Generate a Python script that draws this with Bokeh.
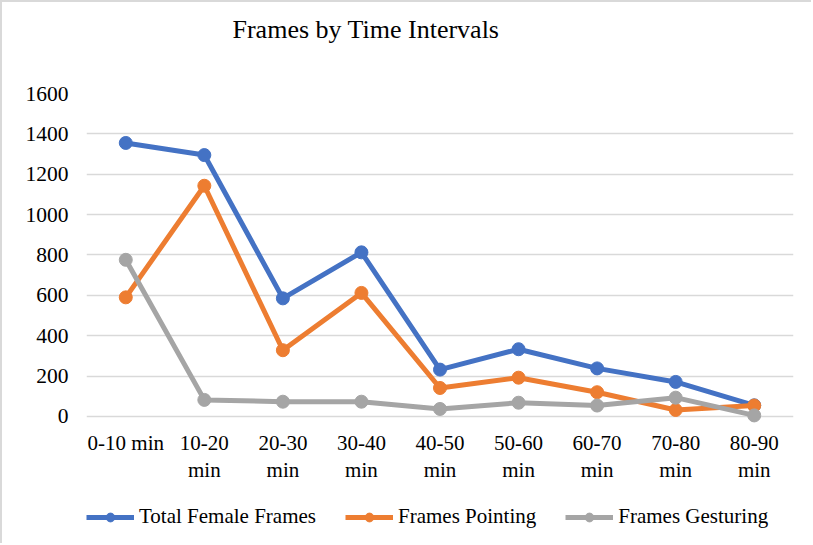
from bokeh.plotting import figure
from bokeh.layouts import column
from bokeh.models import (Legend, LegendItem, Range1d, FactorRange, FixedTicker,
                          CategoricalAxis, Label)
from bokeh.embed import file_html
from bokeh.resources import INLINE

# category labels (first and second line of each tick label)
tick_line1 = ["0-10 min", "10-20", "20-30", "30-40", "40-50",
              "50-60", "60-70", "70-80", "80-90"]
tick_line2 = ["", "min", "min", "min", "min", "min", "min", "min", "min"]
total_female = [1355, 1295, 585, 813, 232, 333, 238, 171, 55]
pointing = [590, 1143, 328, 612, 141, 192, 120, 32, 54]
gesturing = [776, 82, 73, 73, 37, 68, 54, 93, 5]
series_names = ["Total Female Frames", "Frames Pointing", "Frames Gesturing"]
colors = ["#4472C4", "#ED7D31", "#A5A5A5"]
y_ticks = [0, 200, 400, 600, 800, 1000, 1200, 1400, 1600]
title_text = "Frames by Time Intervals"

FONT = "Liberation Serif"
BORDER = "2px solid #d9d9d9"

# second-line factors must be unique: pad with zero-width spaces
line2_factors = [t + "\u200b" * (i + 1) for i, t in enumerate(tick_line2)]


def bare(fig):
    fig.outline_line_color = None
    fig.background_fill_color = "white"
    fig.border_fill_color = "white"
    return fig


# ---- title strip ----
tf = bare(figure(width=811, height=52, x_range=Range1d(0, 707), y_range=Range1d(0, 52),
                 x_axis_type=None, y_axis_type=None,
                 output_backend="svg", toolbar_location=None,
                 min_border_left=0, min_border_right=0, min_border_top=0, min_border_bottom=0))
tf.styles = {"border-top": BORDER, "border-left": BORDER}
tf.add_layout(Label(x=146, y=25, text=title_text, text_font=FONT, text_font_size="26px",
                    text_color="black", text_align="left", text_baseline="alphabetic"))

# ---- main chart ----
p = bare(figure(x_range=FactorRange(*tick_line1, range_padding=0),
                y_range=Range1d(-35, 1600),
                width=811, height=438,
                output_backend="svg", toolbar_location=None,
                min_border_left=84, min_border_right=20,
                min_border_top=41, min_border_bottom=67))
p.styles = {"border-left": BORDER}

p.yaxis.ticker = FixedTicker(ticks=y_ticks)
p.yaxis.axis_line_color = None
p.yaxis.major_tick_line_color = None
p.yaxis.minor_tick_line_color = None
p.yaxis.major_label_standoff = 12
p.yaxis.major_label_text_font = FONT
p.yaxis.major_label_text_font_size = "21.5px"
p.yaxis.major_label_text_color = "black"

p.extra_x_ranges = {"line2": FactorRange(*line2_factors, range_padding=0)}
ax2 = CategoricalAxis(x_range_name="line2")
p.add_layout(ax2, "below")

for ax, standoff in ((p.xaxis[0], 7), (ax2, 0)):
    ax.axis_line_color = None
    ax.major_tick_line_color = None
    ax.major_tick_out = 0
    ax.major_tick_in = 0
    ax.major_label_standoff = standoff
    ax.major_label_text_font = FONT
    ax.major_label_text_font_size = "21px"
    ax.major_label_text_color = "black"

p.xgrid.grid_line_color = None
p.ygrid.grid_line_color = "#d9d9d9"
p.ygrid.grid_line_width = 1.5

# ---- legend strip (its renderers hold the data but lie outside its view) ----
lf = bare(figure(width=811, height=53, x_range=FactorRange(*tick_line1, range_padding=0),
                 y_range=Range1d(-3000, -2000),
                 x_axis_type=None, y_axis_type=None,
                 output_backend="svg", toolbar_location=None,
                 min_border_left=0, min_border_right=0, min_border_top=0, min_border_bottom=0))
lf.styles = {"border-left": BORDER}
lf.xgrid.grid_line_color = None
lf.ygrid.grid_line_color = None

items = []
for name, vals, c in zip(series_names, [total_female, pointing, gesturing], colors):
    p.line(tick_line1, vals, line_color=c, line_width=5, line_join="round")
    p.scatter(tick_line1, vals, size=13, fill_color=c, line_color=c)
    ln = lf.line(tick_line1, vals, line_color=c, line_width=5)
    sc = lf.scatter(tick_line1, vals, size=11, fill_color=c, line_color=c)
    items.append(LegendItem(label=name, renderers=[ln, sc]))

legend = Legend(items=items, orientation="horizontal", location=(0, 14),
                glyph_width=48, glyph_height=22, label_standoff=5, spacing=29,
                padding=0, margin=0, border_line_color=None,
                background_fill_alpha=0, label_text_font=FONT,
                label_text_font_size="21px", label_text_color="black",
                label_height=22)
lf.add_layout(legend)

layout = column(tf, p, lf, spacing=0)
open("out.html", "w").write(file_html(layout, INLINE))
